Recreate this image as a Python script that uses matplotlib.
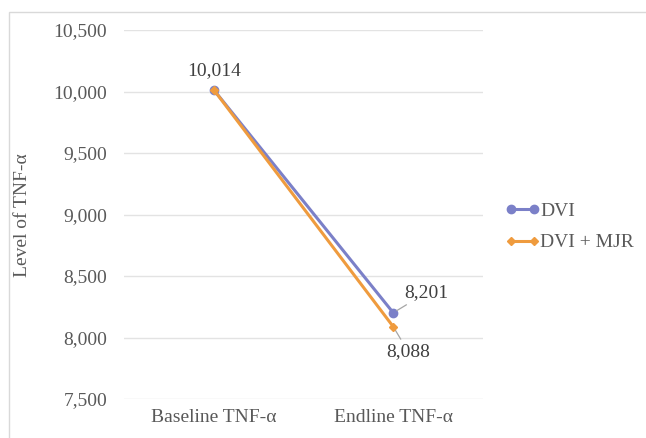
import matplotlib
matplotlib.use("Agg")
import matplotlib.pyplot as plt
from matplotlib.patches import Rectangle
from matplotlib.ticker import FuncFormatter

plt.rcParams["font.family"] = ["Liberation Serif", "DejaVu Serif"]

categories = ["Baseline TNF-α", "Endline TNF-α"]
dvi = [10014, 8201]
dvi_mjr = [10014, 8088]
y_ticks = [7500, 8000, 8500, 9000, 9500, 10000, 10500]

text_col = "#595959"
blue = "#7B80C8"
orange = "#EF9B3E"
fs = 14

fig = plt.figure(figsize=(6.46, 4.38), dpi=100)
# outer chart border (cropped at right/bottom like the reference)
fig.patches.append(Rectangle((9 / 646, -0.1), 1.2, 1 - 12 / 438 + 0.1,
                             transform=fig.transFigure, fill=False,
                             edgecolor="#D9D9D9", linewidth=1.0))

ax = fig.add_axes([124 / 646, 1 - 399 / 438, (483 - 124) / 646, (399 - 30) / 438])
x = list(range(len(categories)))

ax.plot(x, dvi, color=blue, linewidth=2.2, marker="o", markersize=6, label="DVI", zorder=3)
ax.plot(x, dvi_mjr, color=orange, linewidth=2.2, marker="D", markersize=4.5, label="DVI + MJR", zorder=4)

ax.set_xlim(-0.5, 1.5)
ax.set_ylim(7500, 10500)
ax.set_yticks(y_ticks)
ax.yaxis.set_major_formatter(FuncFormatter(lambda v, p: f"{v:,.0f}"))
ax.set_xticks(x)
ax.set_xticklabels(categories)
ax.grid(axis="y", color="#E3E3E3", linewidth=1.0)
ax.set_axisbelow(True)
for s in ax.spines.values():
    s.set_visible(False)
ax.tick_params(length=0, colors=text_col, labelsize=fs, pad=7)
ax.tick_params(axis="y", pad=12)
for lab in ax.get_yticklabels() + ax.get_xticklabels():
    lab.set_color(text_col)

fig.text(23 / 646, 1 - 215 / 438, "Level of TNF-α", rotation=90, ha="center", va="center",
         color=text_col, fontsize=fs)

# data labels
lab_col = "#404040"
ax.annotate(f"{dvi[0]:,}", (x[0], dvi[0]), xytext=(0, 19), textcoords="offset pixels",
            ha="center", va="center", fontsize=fs, color=lab_col)
ax.annotate(f"{dvi[1]:,}", (x[1], dvi[1]), xytext=(33, 20), textcoords="offset pixels",
            ha="center", va="center", fontsize=fs, color=lab_col,
            arrowprops=dict(arrowstyle="-", color="#A6A6A6", lw=0.9, shrinkA=1, shrinkB=3))
ax.annotate(f"{dvi_mjr[1]:,}", (x[1], dvi_mjr[1]), xytext=(15, -25), textcoords="offset pixels",
            ha="center", va="center", fontsize=fs, color=lab_col,
            arrowprops=dict(arrowstyle="-", color="#A6A6A6", lw=0.9, shrinkA=1, shrinkB=3))

leg = fig.legend(loc="center left", bbox_to_anchor=(505 / 646, 1 - 227 / 438), frameon=False,
                 fontsize=fs, numpoints=2, handlelength=1.8, handletextpad=0.0,
                 labelspacing=0.7, borderpad=0, borderaxespad=0)
for t in leg.get_texts():
    t.set_color(text_col)

fig.savefig("out.png", dpi=100)
